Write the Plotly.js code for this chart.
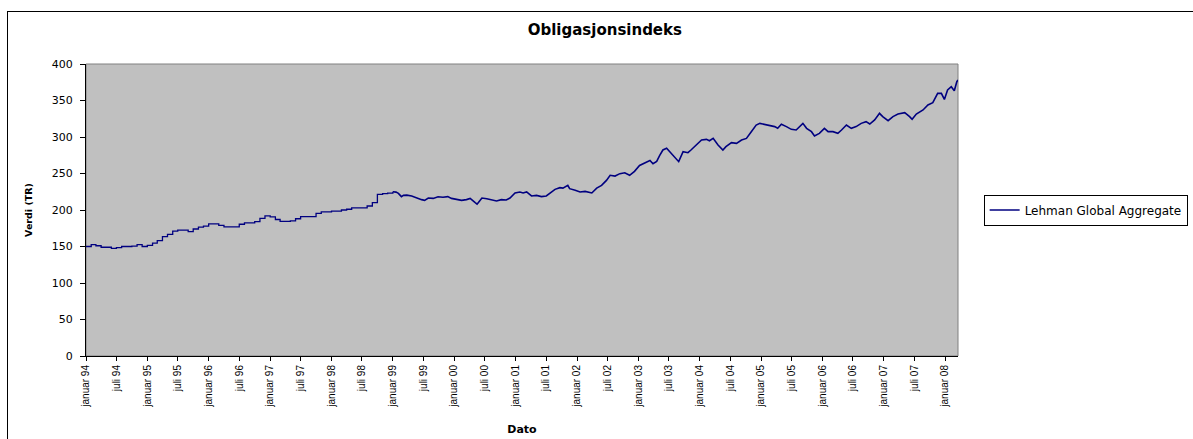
<!DOCTYPE html>
<html lang="no">
<head>
<meta charset="utf-8">
<title>Obligasjonsindeks</title>
<script src="https://cdn.plot.ly/plotly-3.0.1.min.js"></script>
<style>
  html, body { margin: 0; padding: 0; background: #fff; }
  #wrap { position: relative; width: 1193px; height: 439px; overflow: hidden; }
  #chart { width: 1193px; height: 439px; }
  /* chart-area frame, runs off the right and bottom edge */
  #frame { position: absolute; left: 7px; top: 11px; width: 1400px; height: 600px;
           border: 1px solid #000; pointer-events: none; box-sizing: border-box; }
</style>
</head>
<body>
<div id="wrap">
  <div id="chart"></div>
  <div id="frame"></div>
</div>
<script>
// Series name
const seriesName = 'Lehman Global Aggregate';

// Monthly index levels, januar 1994 .. januar 1999 (one value per month)
const monthlyStartYear = 1994;
const monthlyValues = [
  150, 152.5, 151, 149, 149, 147.5, 148.5, 150, 150, 150.5, 152.5, 150,
  151.5, 154.5, 158, 163.5, 166.5, 171, 172.5, 172.5, 170.5, 174, 176.5, 178,
  181, 181, 179, 177, 177, 177, 180.5, 182.5, 182.5, 184, 188.5, 192,
  190.5, 187, 184.5, 184.5, 185, 188, 191, 191, 191, 195.5, 197.5, 197.5,
  198.5, 198.5, 200, 201, 203, 203, 203, 205.5, 210, 221.5, 222.5, 223,
  225
];

// Daily-quoted period from 1999 (sampled observations)
const dailyDates = [
  '1999-01-01','1999-01-20','1999-02-03','1999-02-21','1999-03-05','1999-03-25','1999-04-23','1999-05-22',
  '1999-06-21','1999-07-09','1999-07-31','1999-08-29','1999-09-27','1999-10-26','1999-11-24','1999-12-16',
  '2000-01-15','2000-02-14','2000-03-14','2000-04-05','2000-05-05','2000-05-16','2000-05-23','2000-06-14',
  '2000-07-13','2000-08-11','2000-09-09','2000-10-08','2000-11-06','2000-11-28','2000-12-28',
  '2001-01-26','2001-02-14','2001-03-07','2001-04-05','2001-05-05','2001-06-03','2001-07-02','2001-08-04',
  '2001-08-23','2001-09-21','2001-10-09','2001-11-07','2001-11-18','2001-12-21',
  '2002-01-19','2002-02-18','2002-03-30','2002-04-28','2002-05-27','2002-06-25','2002-07-17','2002-08-15',
  '2002-09-13','2002-10-12','2002-11-10','2002-12-09',
  '2003-01-08','2003-02-17','2003-03-11','2003-03-29','2003-04-20','2003-05-08','2003-05-27','2003-06-18',
  '2003-07-06','2003-08-04','2003-08-29','2003-09-24','2003-10-23','2003-11-10','2003-12-13',
  '2004-01-12','2004-02-10','2004-02-28','2004-03-21','2004-04-19','2004-05-18','2004-06-05','2004-07-08',
  '2004-08-07','2004-09-06','2004-10-05','2004-11-03','2004-12-02','2004-12-24',
  '2005-01-23','2005-02-21','2005-03-22','2005-04-09','2005-05-01','2005-05-31','2005-06-29','2005-07-28',
  '2005-09-06','2005-09-28','2005-10-27','2005-11-14','2005-12-13',
  '2006-01-12','2006-02-03','2006-03-04','2006-04-02','2006-04-24','2006-05-23','2006-06-21','2006-07-20',
  '2006-08-19','2006-09-17','2006-10-09','2006-11-07','2006-12-06','2006-12-25',
  '2007-01-26','2007-02-24','2007-03-26','2007-05-05','2007-06-03','2007-06-18','2007-07-13','2007-08-22',
  '2007-09-20','2007-10-19','2007-11-17','2007-12-09','2007-12-27',
  '2008-01-15','2008-02-06','2008-02-24','2008-03-10','2008-03-17'
];
const dailyValues = [
  225, 224.5, 222.8, 218.3, 220, 220.4, 219.2, 216.4,
  214.2, 213.2, 216.5, 215.9, 218.2, 217.4, 218.3, 215.9,
  214.2, 213.2, 214.2, 215.9, 210, 208, 210, 216.4,
  215.5, 214.2, 212.3, 214.2, 213.7, 216.4, 223.3,
  224.7, 223.3, 224.7, 219.2, 220, 218.3, 219.2, 224.7,
  228.3, 230.6, 230, 233.8, 229.2, 227,
  224.7, 225.5, 223.3, 230, 233.8, 240.6, 247.5, 246.5,
  249.8, 251, 247.5, 253,
  261, 265.5, 267.8, 263.3, 266.5, 274.7, 282.2, 284.5,
  279.9, 272.1, 266.2, 279.9, 278.5, 282.2, 289,
  295.9, 296.8, 294.9, 298.1, 289, 282.2, 286.7, 292.2,
  291.3, 295.9, 298.1, 307.3, 316.4, 318.7,
  317.4, 316.4, 314.2, 311.9, 317.4, 314.2, 310.5, 309.6,
  318.7, 311.9, 307.3, 301.4, 305,
  311.9, 307.3, 307.3, 305, 309.6, 316.4, 311.9, 314.2,
  318.7, 321, 317.8, 323.3, 332.4, 327.9,
  322.4, 327.9, 331.5, 333.3, 327.9, 324.2, 331.5, 337,
  343.8, 347, 359.8, 359.8, 351.5,
  364.4, 368.9, 363.4, 375.8, 378.1
];

// Axis ticks: every half year
const tickDates = [
  '1994-01-01','1994-07-01','1995-01-01','1995-07-01','1996-01-01','1996-07-01','1997-01-01','1997-07-01',
  '1998-01-01','1998-07-01','1999-01-01','1999-07-01','2000-01-01','2000-07-01','2001-01-01','2001-07-01',
  '2002-01-01','2002-07-01','2003-01-01','2003-07-01','2004-01-01','2004-07-01','2005-01-01','2005-07-01',
  '2006-01-01','2006-07-01','2007-01-01','2007-07-01','2008-01-01'
];
const tickLabels = [
  'januar 94','juli 94','januar 95','juli 95','januar 96','juli 96','januar 97','juli 97',
  'januar 98','juli 98','januar 99','juli 99','januar 00','juli 00','januar 01','juli 01',
  'januar 02','juli 02','januar 03','juli 03','januar 04','juli 04','januar 05','juli 05',
  'januar 06','juli 06','januar 07','juli 07','januar 08'
];
const xStart = '1994-01-01';
const xEnd = '2008-03-17';

function pad(n) { return (n < 10 ? '0' : '') + n; }
// first day of each month for the monthly series
const monthlyDates = monthlyValues.map((_, i) => {
  const y = monthlyStartYear + Math.floor(i / 12);
  const m = (i % 12) + 1;
  return y + '-' + pad(m) + '-01';
});

const lineColor = '#000080';

const traces = [
  {
    x: monthlyDates, y: monthlyValues, type: 'scatter', mode: 'lines',
    name: seriesName, legendgroup: 'lga', showlegend: true,
    line: { color: lineColor, width: 1.3, shape: 'hv' },
    hoverinfo: 'x+y'
  },
  {
    x: dailyDates, y: dailyValues, type: 'scatter', mode: 'lines',
    name: seriesName, legendgroup: 'lga', showlegend: false,
    line: { color: lineColor, width: 1.6 },
    hoverinfo: 'x+y'
  }
];

const layout = {
  width: 1193, height: 439,
  margin: { l: 86, r: 235, t: 64, b: 83, pad: 0, autoexpand: false },
  paper_bgcolor: '#ffffff',
  plot_bgcolor: '#c0c0c0',
  font: { family: 'DejaVu Sans, Arial, sans-serif', color: '#000', size: 11 },
  title: {
    text: '<b>Obligasjonsindeks</b>',
    font: { family: 'DejaVu Sans, Arial, sans-serif', size: 15, color: '#000' },
    xref: 'paper', x: 0.595, xanchor: 'center',
    yref: 'container', y: 0.932, yanchor: 'middle'
  },
  xaxis: {
    type: 'date', range: [xStart, xEnd], autorange: false,
    tickmode: 'array', tickvals: tickDates, ticktext: tickLabels,
    tickangle: -90, tickfont: { family: 'Liberation Sans, Arial, sans-serif', size: 10, color: '#000' },
    ticks: 'outside', ticklen: 4, tickwidth: 1, tickcolor: '#000',
    showline: true, linecolor: '#000', linewidth: 1,
    showgrid: false, zeroline: false,
    title: { text: '<b>Dato</b>', font: { family: 'DejaVu Sans, Arial, sans-serif', size: 11, color: '#000' }, standoff: 18 }
  },
  yaxis: {
    range: [0, 400], autorange: false, dtick: 50, tick0: 0,
    tickfont: { family: 'DejaVu Sans, Arial, sans-serif', size: 11, color: '#000' },
    ticks: 'outside', ticklen: 5, tickwidth: 1, tickcolor: '#000',
    ticklabelstandoff: 5,
    showline: true, linecolor: '#000', linewidth: 1,
    showgrid: false, zeroline: false,
    title: { text: '<b>Verdi (TR)</b>', font: { family: 'DejaVu Sans, Arial, sans-serif', size: 9.5, color: '#000' }, standoff: 17 }
  },
  shapes: [
    { type: 'rect', xref: 'paper', yref: 'paper', x0: 0, x1: 1, y0: 0, y1: 1,
      line: { color: '#808080', width: 1 }, layer: 'below' }
  ],
  showlegend: true,
  legend: {
    x: 1.0294, xanchor: 'left', y: 0.5, yanchor: 'middle',
    bgcolor: '#ffffff', bordercolor: '#000', borderwidth: 1,
    font: { family: 'DejaVu Sans, Arial, sans-serif', size: 12, color: '#000' },
    itemwidth: 30
  }
};

Plotly.newPlot('chart', traces, layout, { staticPlot: true, displayModeBar: false });
</script>
</body>
</html>
